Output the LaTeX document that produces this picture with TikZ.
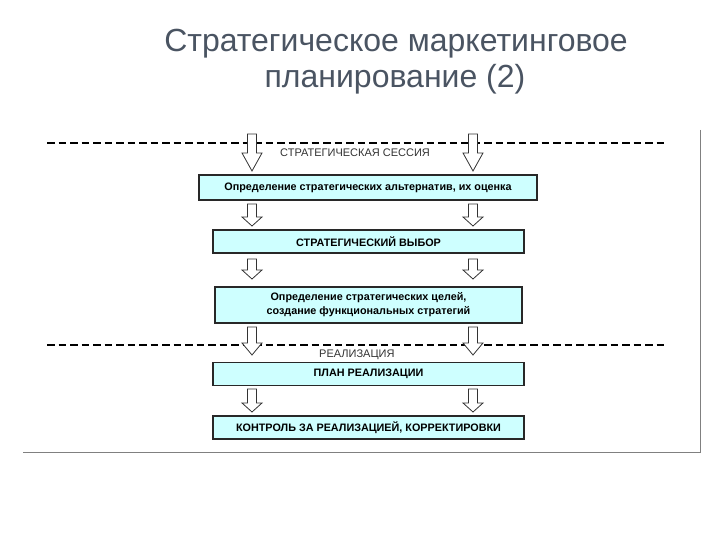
\documentclass[tikz,border=0pt]{standalone}
\usepackage{fontspec}
\setmainfont{Liberation Sans}
\definecolor{titlegrey}{RGB}{74,84,98}
\definecolor{boxfill}{RGB}{206,255,255}
\definecolor{boxline}{RGB}{40,40,40}
\definecolor{framegrey}{RGB}{128,128,128}
\definecolor{labelgrey}{RGB}{50,50,50}
\newcommand\harrow[4]{% x, ytop, ybot, headlength
  \draw[arrowline] ({#1-4.5},#2) -- ({#1+4.5},#2) -- ({#1+4.5},{#3-#4}) -- ({#1+10},{#3-#4})
    -- (#1,#3) -- ({#1-10},{#3-#4}) -- ({#1-4.5},{#3-#4}) -- cycle;}
\tikzset{
  stagebox/.style={draw=boxline, line width=1.5pt, fill=boxfill, inner sep=0pt,
    font=\bfseries\fontsize{10.8}{14}\selectfont, align=center},
  sepline/.style={line width=2pt, dash pattern=on 7.5pt off 4pt},
  arrowline/.style={draw=black!80, line width=0.8pt, fill=white},
  titletext/.style={text=titlegrey, font=\fontsize{32}{36}\selectfont, anchor=base},
  phaselabel/.style={text=labelgrey, font=\fontsize{11}{12}\selectfont, anchor=base west, inner sep=0pt},
}
\begin{document}
\begin{tikzpicture}[x=1pt, y=-1pt]
\useasboundingbox (0,0) rectangle (720,540);
% title
\node[titletext] (t1) at (396,52) {Стратегическое маркетинговое};
\node[titletext] (t2) at (395,88) {планирование (2)};
% frame edges
\draw[framegrey, line width=1pt] (700,130) -- (700,452.5) -- (23,452.5);
% separators
\draw[sepline] (47,143) -- (667,143);
\draw[sepline] (47,345) -- (667,345);
% labels
\node[phaselabel] (l1) at (280,157) {СТРАТЕГИЧЕСКАЯ СЕССИЯ};
\node[phaselabel] (l2) at (319,357) {РЕАЛИЗАЦИЯ};
% arrows
\harrow{252}{134}{171}{18}
\harrow{473}{134}{171}{18}
\harrow{252}{204}{226}{9}
\harrow{473}{204}{226}{9}
\harrow{252}{259}{279}{9}
\harrow{473}{259}{279}{9}
\harrow{252}{327}{355}{12}
\harrow{473}{327}{355}{12}
\harrow{252}{389}{412}{9}
\harrow{473}{389}{412}{9}
% boxes
\node[stagebox, minimum width=338pt, minimum height=25pt] (b1) at (368,187.5)
  {Определение стратегических альтернатив, их оценка};
\node[stagebox, minimum width=311pt, minimum height=23pt] (b2) at (368.5,241.5)
  {СТРАТЕГИЧЕСКИЙ ВЫБОР};
\node[stagebox, minimum width=307pt, minimum height=36pt] (b3) at (368.5,305)
  {Определение стратегических целей,\\создание функциональных стратегий};
\node[stagebox, minimum width=311pt, minimum height=23pt] (b4) at (368.5,374)
  {ПЛАН РЕАЛИЗАЦИИ};
\node[stagebox, minimum width=311pt, minimum height=23pt] (b5) at (368.5,427.5)
  {КОНТРОЛЬ ЗА РЕАЛИЗАЦИЕЙ, КОРРЕКТИРОВКИ};
\end{tikzpicture}
\end{document}
